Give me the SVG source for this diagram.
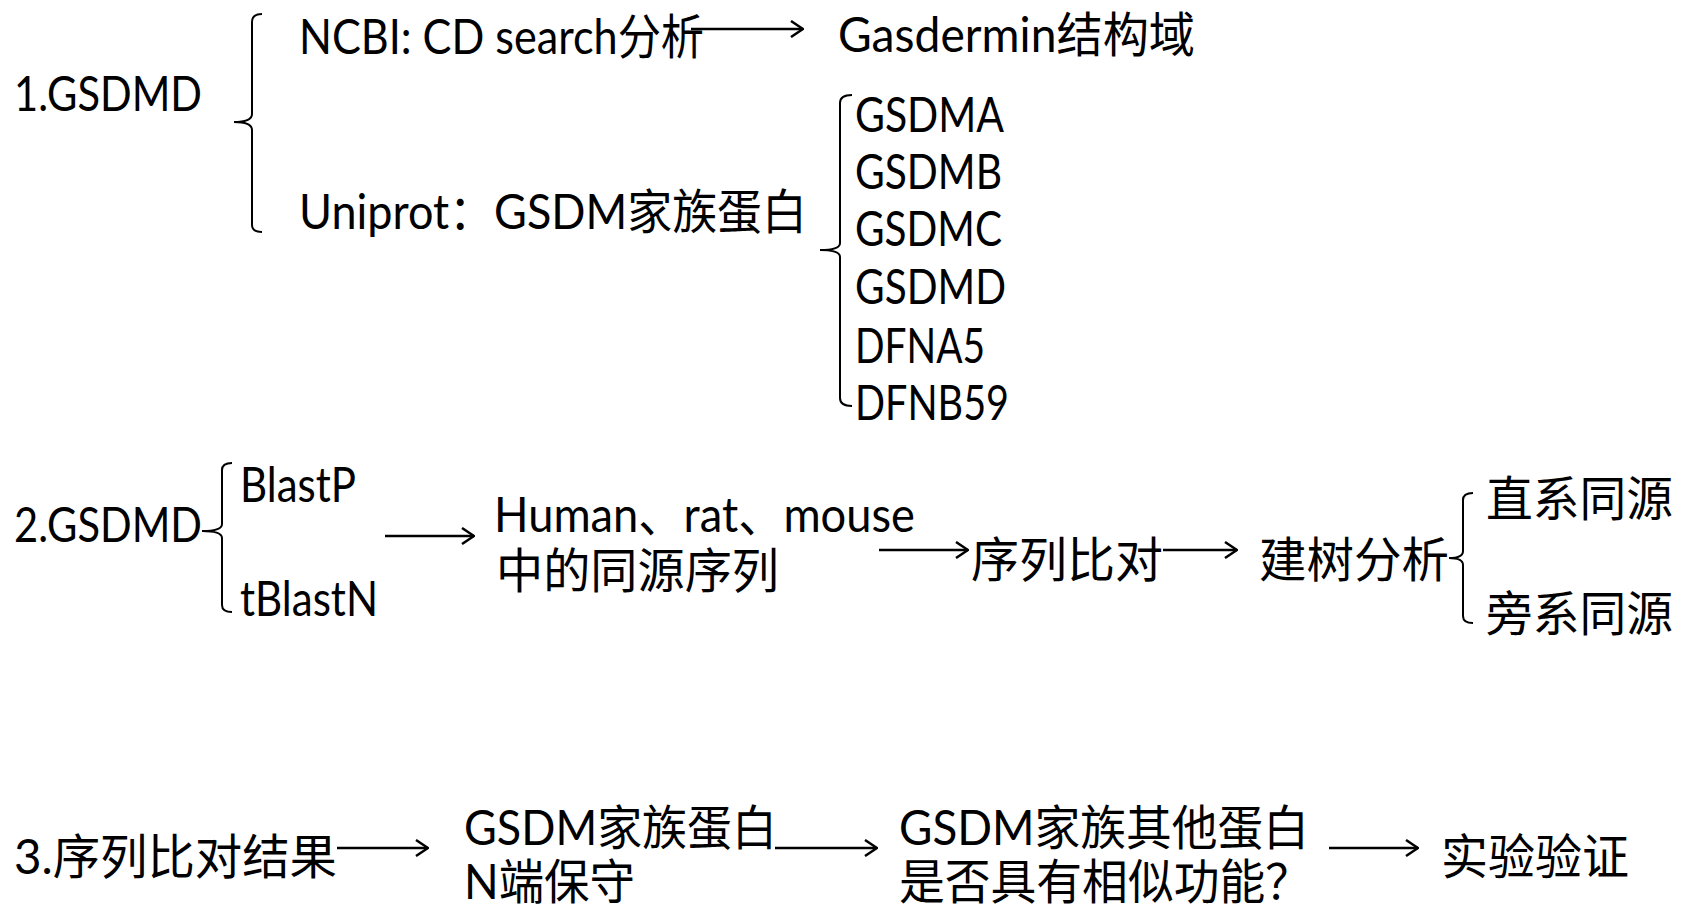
<svg xmlns="http://www.w3.org/2000/svg" width="1692" height="908" viewBox="0 0 1692 908">
<defs>
<style>
text{font-family:Lato,"Noto Sans","Noto Sans CJK SC",sans-serif;font-size:48px;fill:#000}
.br{fill:none;stroke:#000;stroke-width:2}
.ar{fill:none;stroke:#000;stroke-width:2.5;marker-end:url(#ah)}
</style>
<marker id="ah" viewBox="0 0 14 18" refX="13" refY="9" markerWidth="14" markerHeight="18" markerUnits="userSpaceOnUse" orient="auto">
<path d="M1,1 L13,9 L1,17" fill="none" stroke="#000" stroke-width="2.5"/>
</marker>
</defs>
<rect width="1692" height="908" fill="#fff"/>
<g id="connectors">
<path class="br" d="M262,14 Q252,14 252,22 L252,114 Q252,122 234,122 Q252,122 252,130 L252,225 Q252,232 262,232"/>
<path class="br" d="M852,95 Q840,95 840,103 L840,243 Q840,250 820,250 Q840,250 840,257 L840,398 Q840,406 852,406"/>
<path class="br" d="M232,463 Q222,463 222,470 L222,524 Q222,531 202,531 Q222,531 222,538 L222,605 Q222,612 232,612"/>
<path class="br" d="M1473,493 Q1463,493 1463,500 L1463,551 Q1463,558 1449,558 Q1463,558 1463,565 L1463,616 Q1463,623 1473,623"/>
<line class="ar" x1="691" y1="29" x2="803" y2="29"/>
<line class="ar" x1="385" y1="536" x2="474" y2="536"/>
<line class="ar" x1="879" y1="550" x2="968" y2="550"/>
<line class="ar" x1="1163" y1="550" x2="1237" y2="550"/>
<line class="ar" x1="337" y1="848" x2="428" y2="848"/>
<line class="ar" x1="775" y1="848" x2="877" y2="848"/>
<line class="ar" x1="1329" y1="848" x2="1418" y2="848"/>
</g>
<g id="n1"><text x="14" y="111" textLength="188" lengthAdjust="spacingAndGlyphs">1.GSDMD</text></g>
<g id="n2"><text x="299" y="54" textLength="405" lengthAdjust="spacingAndGlyphs">NCBI: CD search分析</text></g>
<g id="n3"><text x="838" y="52" textLength="357" lengthAdjust="spacingAndGlyphs">Gasdermin结构域</text></g>
<g id="n4"><text x="299" y="229" textLength="508" lengthAdjust="spacingAndGlyphs">Uniprot：GSDM家族蛋白</text></g>
<g id="n5">
<text x="855" y="132" textLength="149" lengthAdjust="spacingAndGlyphs">GSDMA</text>
<text x="855" y="189" textLength="147" lengthAdjust="spacingAndGlyphs">GSDMB</text>
<text x="855" y="246" textLength="147" lengthAdjust="spacingAndGlyphs">GSDMC</text>
<text x="855" y="304" textLength="151" lengthAdjust="spacingAndGlyphs">GSDMD</text>
<text x="855" y="363" textLength="130" lengthAdjust="spacingAndGlyphs">DFNA5</text>
<text x="855" y="420" textLength="154" lengthAdjust="spacingAndGlyphs">DFNB59</text>
</g>
<g id="n6"><text x="14" y="542" textLength="188" lengthAdjust="spacingAndGlyphs">2.GSDMD</text></g>
<g id="n7"><text x="240" y="502" textLength="116" lengthAdjust="spacingAndGlyphs">BlastP</text></g>
<g id="n8"><text x="240" y="616" textLength="138" lengthAdjust="spacingAndGlyphs">tBlastN</text></g>
<g id="n9">
<text x="494" y="532" textLength="421" lengthAdjust="spacingAndGlyphs">Human、rat、mouse</text>
<text x="496" y="588" textLength="283" lengthAdjust="spacingAndGlyphs">中的同源序列</text>
</g>
<g id="n10"><text x="971" y="577" textLength="192" lengthAdjust="spacingAndGlyphs">序列比对</text></g>
<g id="n11"><text x="1259" y="577" textLength="190" lengthAdjust="spacingAndGlyphs">建树分析</text></g>
<g id="n12"><text x="1486" y="516" textLength="187" lengthAdjust="spacingAndGlyphs">直系同源</text></g>
<g id="n13"><text x="1486" y="631" textLength="187" lengthAdjust="spacingAndGlyphs">旁系同源</text></g>
<g id="n14"><text x="14" y="874" textLength="323" lengthAdjust="spacingAndGlyphs">3.序列比对结果</text></g>
<g id="n15">
<text x="464" y="845" textLength="313" lengthAdjust="spacingAndGlyphs">GSDM家族蛋白</text>
<text x="464" y="899" textLength="171" lengthAdjust="spacingAndGlyphs">N端保守</text>
</g>
<g id="n16">
<text x="899" y="845" textLength="410" lengthAdjust="spacingAndGlyphs">GSDM家族其他蛋白</text>
<text x="899" y="899" textLength="412" lengthAdjust="spacingAndGlyphs">是否具有相似功能？</text>
</g>
<g id="n17"><text x="1441" y="874" textLength="188" lengthAdjust="spacingAndGlyphs">实验验证</text></g>
</svg>
